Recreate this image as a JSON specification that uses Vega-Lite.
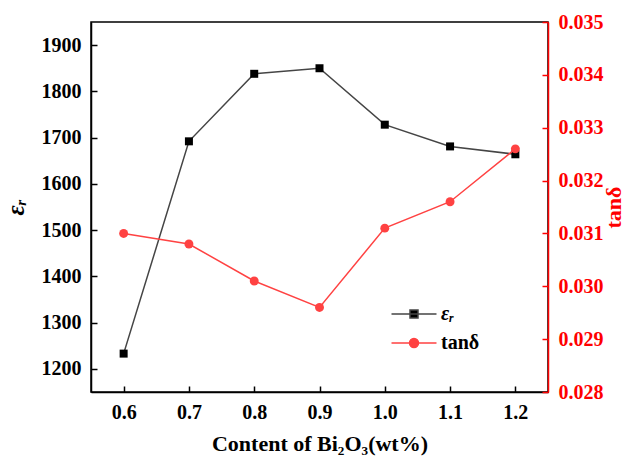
{
  "$schema": "https://vega.github.io/schema/vega-lite/v6.json",
  "width": 457,
  "height": 370,
  "autosize": "none",
  "padding": {"left": 91, "top": 22, "right": 84, "bottom": 67},
  "background": "white",
  "config": {
    "font": "Liberation Serif",
    "view": {"stroke": "black", "strokeWidth": 1.5},
    "axis": {
      "grid": false,
      "labelFont": "Liberation Serif",
      "labelFontWeight": "bold",
      "labelFontSize": 20,
      "labelColor": "black",
      "titleFont": "Liberation Serif",
      "titleFontWeight": "bold",
      "titleFontSize": 22,
      "titleColor": "black",
      "domainColor": "black",
      "domainWidth": 1.5,
      "tickColor": "black",
      "tickWidth": 1.5,
      "tickSize": -6,
      "labelPadding": 16
    }
  },
  "data": {
    "values": [
      {"content": 0.6, "er": 1233, "tan": 0.0310},
      {"content": 0.7, "er": 1692, "tan": 0.0308},
      {"content": 0.8, "er": 1838, "tan": 0.0301},
      {"content": 0.9, "er": 1850, "tan": 0.0296},
      {"content": 1.0, "er": 1728, "tan": 0.0311},
      {"content": 1.1, "er": 1681, "tan": 0.0316},
      {"content": 1.2, "er": 1664, "tan": 0.0326}
    ]
  },
  "encoding": {
    "x": {
      "field": "content",
      "type": "quantitative",
      "scale": {"domain": [0.55, 1.25], "nice": false, "zero": false},
      "axis": {
        "values": [0.6, 0.7, 0.8, 0.9, 1.0, 1.1, 1.2],
        "format": ".1f",
        "title": "Content of Bi₂O₃(wt%)",
        "titlePadding": 11
      }
    }
  },
  "layer": [
    {
      "encoding": {
        "y": {
          "field": "er",
          "type": "quantitative",
          "scale": {"domain": [1150, 1950], "nice": false, "zero": false},
          "axis": {
            "values": [1200, 1300, 1400, 1500, 1600, 1700, 1800, 1900],
            "format": "d",
            "title": "εᵣ",
            "titleFontStyle": "italic",
            "titleFontSize": 25,
            "titlePadding": 13
          }
        }
      },
      "layer": [
        {"mark": {"type": "line", "color": "#454545", "strokeWidth": 1.5}},
        {
          "mark": {"type": "point", "shape": "square", "filled": true, "size": 64, "opacity": 1},
          "encoding": {
            "color": {
              "datum": "εᵣ",
              "scale": {"domain": ["εᵣ", "tanδ"], "range": ["black", "#ff4242"]},
              "legend": {
                "orient": "none",
                "legendX": 313,
                "legendY": 282,
                "title": null,
                "padding": 0,
                "symbolSize": 100,
                "symbolType": {"expr": "datum.index === 0 ? 'M-4.5,0H4.5M-0.8,-0.8H0.8V0.8H-0.8Z' : 'M-4.5,0H4.5M0.9,0A0.9,0.9,0,1,1,-0.9,0A0.9,0.9,0,1,1,0.9,0Z'"},
                "symbolStrokeColor": {"expr": "datum.index === 0 ? '#454545' : '#ff4242'"},
                "symbolStrokeWidth": 1.5,
                "symbolOpacity": 1,
                "labelOffset": 17,
                "rowPadding": 9,
                "labelFont": "Liberation Serif",
                "labelFontSize": 20,
                "labelFontWeight": "bold",
                "labelFontStyle": {"expr": "datum.index === 0 ? 'italic' : 'normal'"},
                "labelColor": "black"
              }
            }
          }
        }
      ]
    },
    {
      "encoding": {
        "y": {
          "field": "tan",
          "type": "quantitative",
          "scale": {"domain": [0.028, 0.035], "nice": false, "zero": false},
          "axis": {
            "orient": "right",
            "values": [0.028, 0.029, 0.030, 0.031, 0.032, 0.033, 0.034, 0.035],
            "format": ".3f",
            "title": "tanδ",
            "titleAngle": -90,
            "titlePadding": 22,
            "domainColor": "#ff0000",
            "tickColor": "#ff0000",
            "labelColor": "#ff0000",
            "titleColor": "#ff0000"
          }
        }
      },
      "layer": [
        {"mark": {"type": "line", "color": "#ff4242", "strokeWidth": 1.5}},
        {"mark": {"type": "point", "shape": "circle", "filled": true, "size": 80, "opacity": 1, "color": "#ff4242"}}
      ]
    }
  ],
  "resolve": {"scale": {"y": "independent"}}
}
